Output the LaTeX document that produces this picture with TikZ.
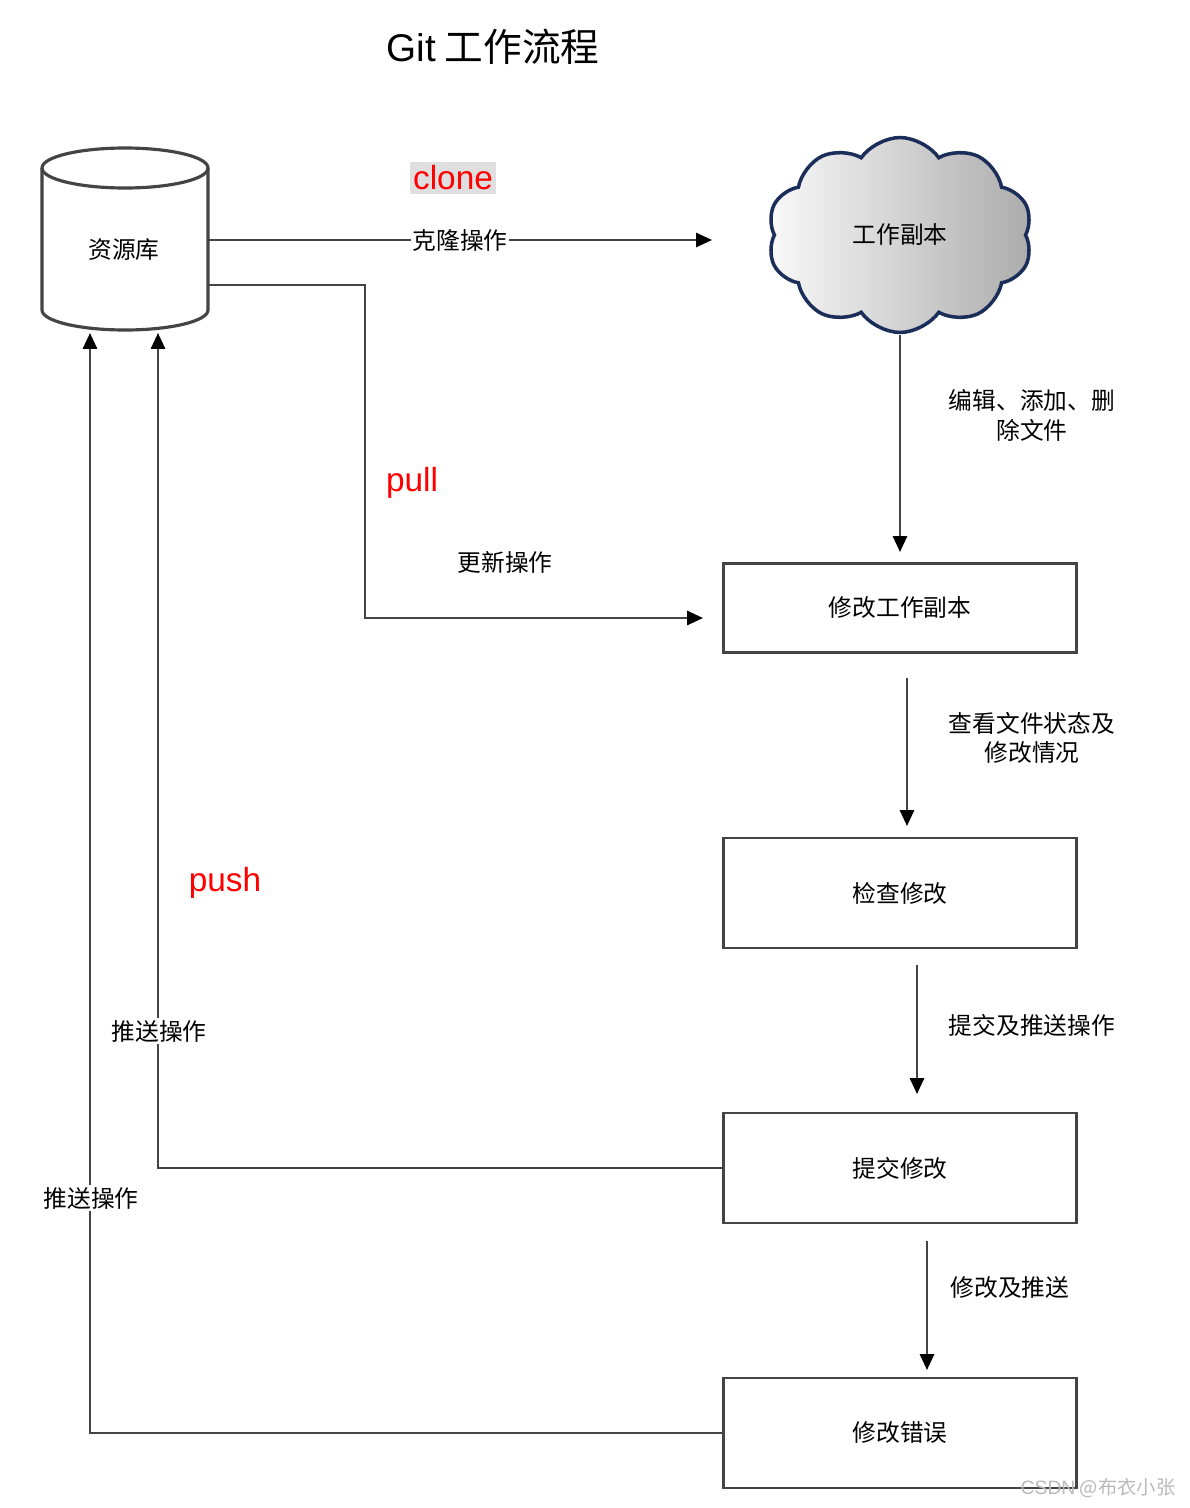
\documentclass[tikz,border=0pt]{standalone}
\usepackage{fontspec}
\setmainfont{Noto Sans CJK SC}
\newfontfamily\latinsans{Liberation Sans}
\usetikzlibrary{arrows.meta, shapes.symbols}
\definecolor{cloudline}{HTML}{1B2E5A}
\definecolor{linegray}{HTML}{444444}
\begin{document}
\begin{tikzpicture}[x=0.02cm, y=-0.02cm,
    every node/.style={font=\fontsize{13.5pt}{17pt}\selectfont, inner sep=1pt},
    box/.style={rectangle, draw=linegray, line width=1.6pt, minimum width=7.06cm, align=center},
    line/.style={draw=linegray, line width=1.4pt},
    arrow/.style={line, -{Triangle[length=9pt, width=8pt, color=black]}},
    tag/.style={font=\latinsans\fontsize{19pt}{22pt}\selectfont, text=red},
    lbl/.style={align=center, fill=white}
  ]
  \useasboundingbox (0,0) rectangle (1190,1508);

  \node[font=\fontsize{22pt}{26pt}\selectfont] (title) at (493,47) {{\latinsans Git} 工作流程};

  % repository cylinder
  \draw[line, line width=1.8pt, fill=white] (42,168) -- (42,310) arc[start angle=180, end angle=0, x radius=83, y radius=20]
      -- (208,168) arc[start angle=0, end angle=-180, x radius=83, y radius=20] -- cycle;
  \draw[line, line width=1.8pt] (42,168) arc[start angle=180, end angle=0, x radius=83, y radius=20];
  \node (db) at (124,250) {资源库};
  \coordinate (dbclone) at (208,240);
  \coordinate (dbpull) at (208,285);
  \coordinate (dbin1) at (158,333);
  \coordinate (dbin2) at (90,333);

  % working copy cloud
  \node[cloud, cloud puffs=10, cloud puff arc=110, aspect=1.4, draw=cloudline, line width=2pt,
        left color=gray!5, right color=gray!65, minimum width=5.3cm, minimum height=3.9cm] (wc) at (900,235) {工作副本};

  \node[box, minimum height=1.78cm] (edit) at (900,608) {修改工作副本};
  \node[box, minimum height=2.2cm] (check) at (900,893) {检查修改};
  \node[box, minimum height=2.2cm] (commit) at (900,1168) {提交修改};
  \node[box, minimum height=2.2cm] (fix) at (900,1433) {修改错误};

  % clone
  \node[tag, fill=gray!25, inner sep=2pt] (tclone) at (453,178) {clone};
  \coordinate (cloneend) at (712,240);
  \draw[arrow] (dbclone) -- node[lbl] (lclone) {克隆操作} (cloneend);

  % pull
  \node[tag] (tpull) at (412,483) {pull};
  \node (lpull) at (505,562) {更新操作};
  \coordinate (pullend) at (703,618);
  \draw[arrow] (dbpull) -| (365,618) -- (pullend);

  % vertical flow
  \coordinate (a1) at (900,335); \coordinate (a2) at (900,552);
  \draw[arrow] (a1) -- (a2);
  \node[align=center] (l1) at (1032,415) {编辑、添加、删\\除文件};
  \coordinate (b1) at (907,678); \coordinate (b2) at (907,826);
  \draw[arrow] (b1) -- (b2);
  \node[align=center] (l2) at (1032,738) {查看文件状态及\\修改情况};
  \coordinate (c1) at (917,965); \coordinate (c2) at (917,1094);
  \draw[arrow] (c1) -- (c2);
  \node (l3) at (1032,1025) {提交及推送操作};
  \coordinate (d1) at (927,1241); \coordinate (d2) at (927,1370);
  \draw[arrow] (d1) -- (d2);
  \node (l4) at (1010,1288) {修改及推送};

  % push
  \node[tag] (tpush) at (225,883) {push};
  \draw[arrow] (commit.west) -| (dbin1);
  \node[lbl] (lpush1) at (159,1031) {推送操作};
  \draw[arrow] (fix.west) -| (dbin2);
  \node[lbl] (lpush2) at (91,1198) {推送操作};

  \node[text=gray!55, font=\fontsize{11pt}{13pt}\selectfont] (wm) at (1098,1488) {{\latinsans CSDN} @布衣小张};
\end{tikzpicture}
\end{document}
